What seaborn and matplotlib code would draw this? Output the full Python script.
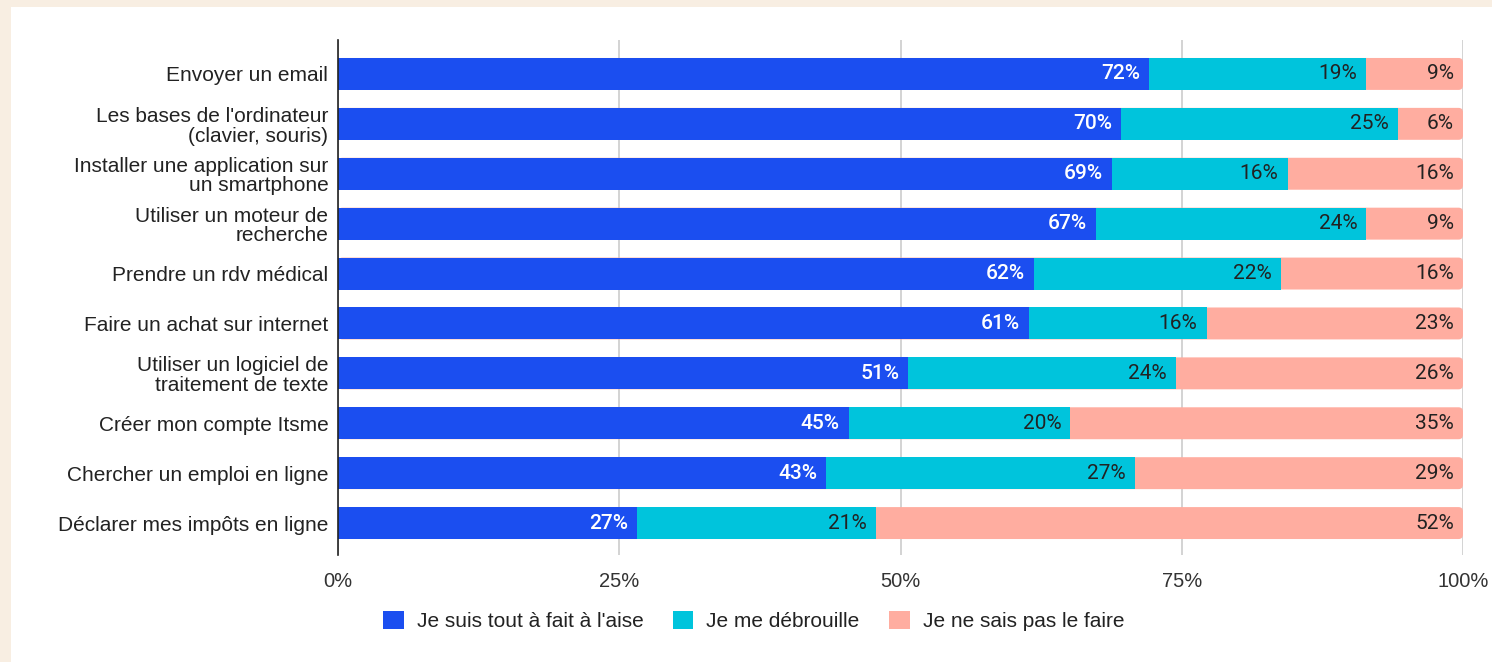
import pandas as pd
import matplotlib.pyplot as plt
import seaborn as sns
from matplotlib.patches import Patch, Rectangle, FancyBboxPatch

# ==========================================
# DATA
# ==========================================

tasks = [
    "Envoyer un email",
    "Les bases de l'ordinateur\n(clavier, souris)",
    "Installer une application sur\nun smartphone",
    "Utiliser un moteur de\nrecherche",
    "Prendre un rdv médical",
    "Faire un achat sur internet",
    "Utiliser un logiciel de\ntraitement de texte",
    "Créer mon compte Itsme",
    "Chercher un emploi en ligne",
    "Déclarer mes impôts en ligne",
]

# share of respondents (%)
at_ease = [72.1, 69.6, 68.8, 67.4, 61.9, 61.4, 50.7, 45.4, 43.4, 26.6]
manage = [19.3, 24.6, 15.6, 24.0, 21.9, 15.8, 23.8, 19.7, 27.4, 21.2]
cannot = [8.6, 5.8, 15.6, 8.6, 16.2, 22.8, 25.5, 34.9, 29.2, 52.2]

series_names = ["Je suis tout à fait à l'aise", "Je me débrouille", "Je ne sais pas le faire"]
xticks = [0, 25, 50, 75, 100]

colors = ["#1b4ef0", "#00c4dc", "#ffada0"]

df = pd.DataFrame({
    "task": tasks,
    "at_ease": at_ease,
    "manage": manage,
    "cannot": cannot,
})
df["end1"] = df["at_ease"]
df["end2"] = df["at_ease"] + df["manage"]
df["end3"] = df["end2"] + df["cannot"]

# ==========================================
# FIGURE
# ==========================================

sns.set_style("white")
plt.rcParams["font.family"] = ["Liberation Sans", "DejaVu Sans"]

fig = plt.figure(figsize=(14.92, 6.62), dpi=100, facecolor="#f8eee2")
# white card over the beige page
fig.patches.append(Rectangle((11 / 1492, 0), 1, 1 - 7 / 662, transform=fig.transFigure,
                             facecolor="white", edgecolor="none", zorder=-10))

ax = fig.add_axes([338 / 1492, 1 - 555 / 662, (1463 - 338) / 1492, 515 / 662])
ax.set_facecolor("white")

# stacked bars: draw longest first, shorter ones on top
bar_h = 0.64
for col, c in zip(["end3", "end2", "end1"], colors[::-1]):
    sns.barplot(data=df, x=col, y="task", orient="h", color=c, saturation=1,
                width=bar_h, ax=ax, linewidth=0, zorder=3)

# round the right end of the last segment (the pink bars come first)
n = len(df)
pink_bars = list(ax.patches)[:n]
for p in pink_bars:
    rb = FancyBboxPatch((p.get_x(), p.get_y()), p.get_width(), p.get_height(),
                        boxstyle="round,pad=0,rounding_size=0.4",
                        mutation_aspect=0.225, facecolor=p.get_facecolor(),
                        edgecolor="none", zorder=2.5)
    p.remove()
    ax.add_patch(rb)

# value labels at the right end of each segment
segs = [("at_ease", "end1", "white", "medium"),
        ("manage", "end2", "#222222", "normal"),
        ("cannot", "end3", "#222222", "normal")]
for i in range(n):
    for val_col, end_col, tc, fw in segs:
        ax.annotate(f"{round(df[val_col][i]):d}%", xy=(df[end_col][i], i),
                    xytext=(-6.5, 0), textcoords="offset points",
                    ha="right", va="center", color=tc, fontsize=15,
                    fontweight=fw, family="Roboto", zorder=5,
                    annotation_clip=False)

ax.set_xlim(0, 100)
ax.set_ylim(9.64, -0.68)
ax.set_xticks(xticks)
ax.set_xticklabels([f"{t}%" for t in xticks])
ax.set_xlabel("")
ax.set_ylabel("")

ax.set_axisbelow(True)
ax.xaxis.grid(True, color="#cccccc", linewidth=1.2)
ax.yaxis.grid(False)
for s in ["top", "right", "bottom"]:
    ax.spines[s].set_visible(False)
ax.spines["left"].set_color("#222222")
ax.spines["left"].set_linewidth(1.2)
ax.spines["left"].set_zorder(4)

ax.tick_params(axis="x", length=0, pad=12, labelsize=14.5, labelcolor="#333333")
ax.tick_params(axis="y", length=0, pad=7, labelsize=15, labelcolor="#222222")
for lab in ax.get_yticklabels():
    lab.set_linespacing(1.05)
    lab.set_family(["Liberation Sans", "DejaVu Sans"])
for lab in ax.get_xticklabels():
    lab.set_family(["Liberation Sans", "DejaVu Sans"])

handles = [Patch(facecolor=c, edgecolor="none") for c in colors]
fig.legend(handles, series_names, loc="center", bbox_to_anchor=(0.505, 0.062),
           ncol=3, frameon=False, fontsize=15, handlelength=1.0, handleheight=1.0,
           handletextpad=0.62, columnspacing=1.4, labelcolor="#222222")

plt.savefig("out.png", dpi=100, facecolor=fig.get_facecolor())
